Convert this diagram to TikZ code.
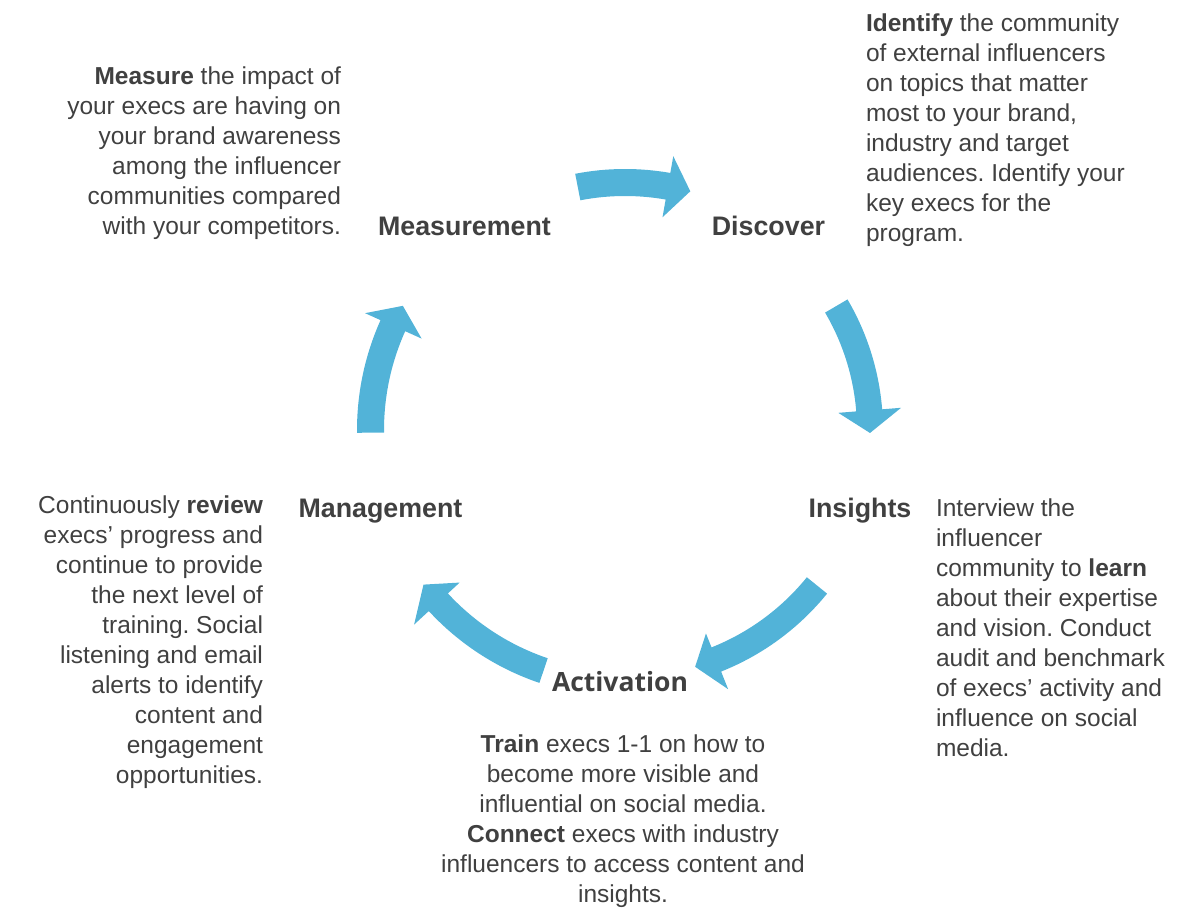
\documentclass[tikz,border=0pt]{standalone}
\usepackage{fontspec}
\setmainfont{Liberation Sans}
\newfontfamily\osans{Open Sans}
\definecolor{arrowblue}{RGB}{82,179,216}
\definecolor{txtgray}{RGB}{64,64,64}
\frenchspacing
\newcommand\cyclearrow[7]{% ri ro a0 a1 hi ho at
  \fill[arrowblue,shift={(625,494)}] (#3:#2) arc[start angle=#3, end angle=#4, radius=#2]
    -- (#4:#6) -- (#7:{(#1+#2)/2}) -- (#4:#5) -- (#4:#1)
    arc[start angle=#4, end angle=#3, radius=#1] -- cycle;
}
\tikzset{
  body/.style={inner sep=0pt, outer sep=0pt, text=txtgray, font=\frenchspacing\fontsize{24.5}{30}\selectfont},
  stage/.style={inner sep=0pt, outer sep=0pt, text=txtgray, font=\fontsize{26.8}{30}\selectfont\bfseries},
  stageos/.style={inner sep=0pt, outer sep=0pt, text=txtgray, font=\osans\fontsize{26.5}{30}\selectfont\bfseries}
}
\begin{document}
\begin{tikzpicture}[x=1pt,y=1pt]
\useasboundingbox (0,0) rectangle (1192,924);
% arrows
\cyclearrow{234}{261}{101}{80}{216}{278}{74.7}
\cyclearrow{232}{258}{30.4}{4.6}{214}{277}{-0.7}
\cyclearrow{234}{260}{-39}{-68.3}{219}{279}{-73.5}
\cyclearrow{241}{267}{-108.7}{-137.3}{225}{287}{-142.5}
\cyclearrow{241}{268}{180.6}{155.8}{223}{285}{150.8}
% stage labels
\node[stage, anchor=base] (meas) at (464.5,688) {Measurement};
\node[stage, anchor=base] (disc) at (768.5,688) {Discover};
\node[stage, anchor=base] (ins) at (860,406) {Insights};
\node[stage, anchor=base] (mgmt) at (380.5,406) {Management};
\node[stageos, anchor=base] (act) at (620,232) {Activation};
% descriptions
\node[body, align=right, anchor=north east] (tmeas) at (341,857) {\textbf{Measure} the impact of\\your execs are having on\\your brand awareness\\among the influencer\\communities compared\\with your competitors.};
\node[body, align=left, anchor=north west] (tdisc) at (866,910) {\textbf{Identify} the community\\of external influencers\\on topics that matter\\most to your brand,\\industry and target\\audiences. Identify your\\key execs for the\\program.};
\node[body, align=left, anchor=north west] (tins) at (936,425) {Interview the\\influencer\\community to \textbf{learn}\\about their expertise\\and vision. Conduct\\audit and benchmark\\of execs’ activity and\\influence on social\\media.};
\node[body, align=right, anchor=north east] (tmgmt) at (263,428) {Continuously \textbf{review}\\execs’ progress and\\continue to provide\\the next level of\\training. Social\\listening and email\\alerts to identify\\content and\\engagement\\opportunities.};
\node[body, align=center, anchor=north] (tact) at (623,189) {\textbf{Train} execs 1-1 on how to\\become more visible and\\influential on social media.\\\textbf{Connect} execs with industry\\influencers to access content and\\insights.};
\end{tikzpicture}
\end{document}
